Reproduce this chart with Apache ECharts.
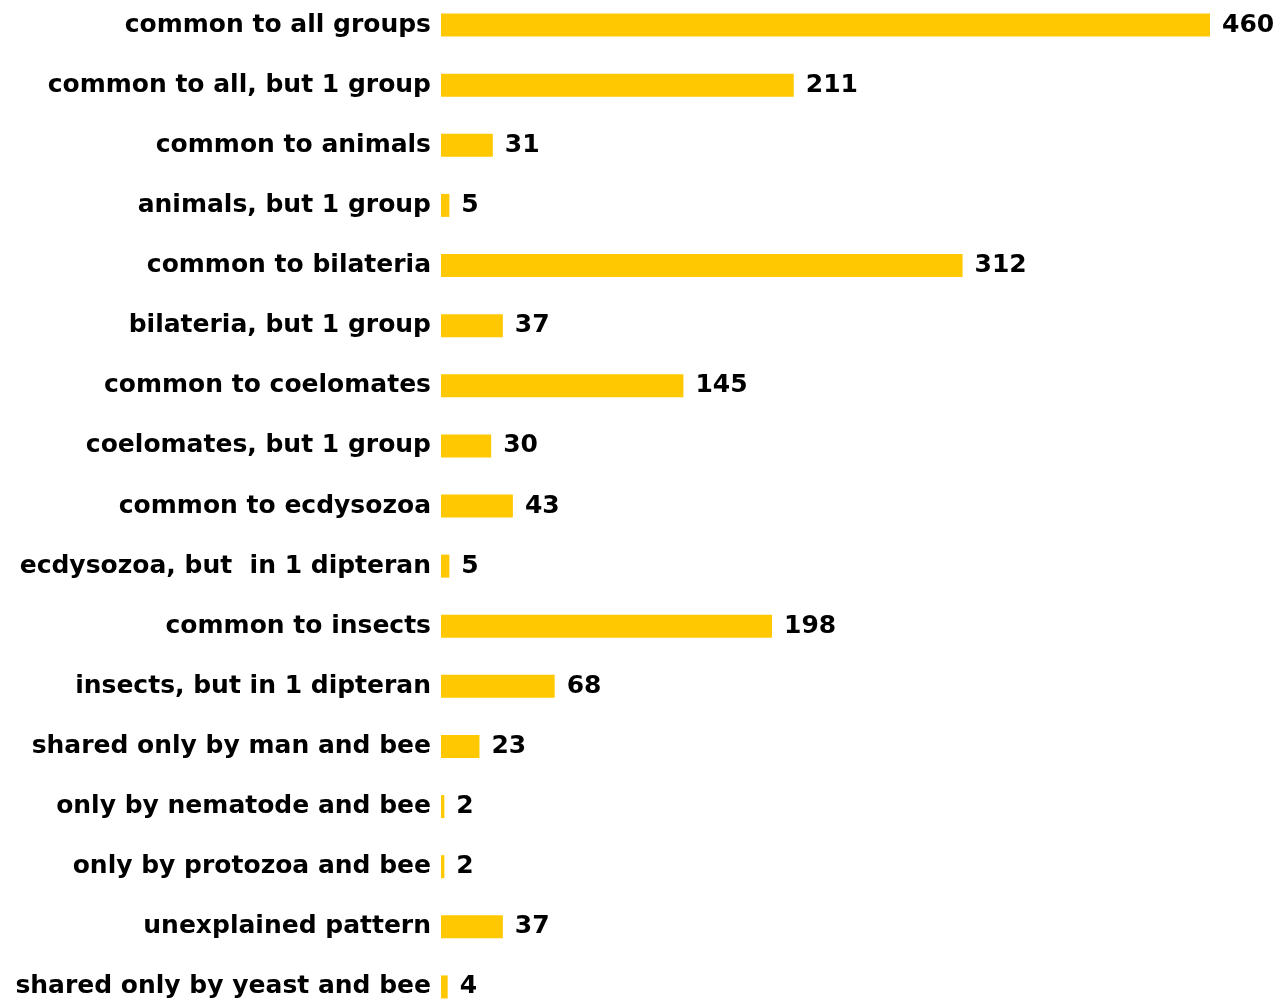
<!DOCTYPE html>
<html><head><meta charset="utf-8">
<script src="https://cdn.jsdelivr.net/npm/echarts@6/dist/echarts.min.js"></script>
<style>html,body{margin:0;padding:0;background:#fff}#c{width:1286px;height:1003px}</style>
</head><body><div id="c"></div>
<script>
const categories = [
  "common to all groups",
  "common to all, but 1 group",
  "common to animals",
  "animals, but 1 group",
  "common to bilateria",
  "bilateria, but 1 group",
  "common to coelomates",
  "coelomates, but 1 group",
  "common to ecdysozoa",
  "ecdysozoa, but  in 1 dipteran",
  "common to insects",
  "insects, but in 1 dipteran",
  "shared only by man and bee",
  "only by nematode and bee",
  "only by protozoa and bee",
  "unexplained pattern",
  "shared only by yeast and bee"
];
const values = [460, 211, 31, 5, 312, 37, 145, 30, 43, 5, 198, 68, 23, 2, 2, 37, 4];

const chart = echarts.init(document.getElementById('c'));
chart.setOption({
  animation: false,
  backgroundColor: '#ffffff',
  grid: { left: 441, right: 76, top: -5, height: 1022, containLabel: false, outerBoundsMode: 'none' },
  xAxis: { type: 'value', min: 0, max: 460, show: false },
  yAxis: {
    type: 'category', data: categories, inverse: true,
    axisLine: { show: false }, axisTick: { show: false },
    axisLabel: { margin: 10, color: '#000', fontFamily: 'DejaVu Sans', fontSize: 25, fontWeight: 'bold' }
  },
  series: [{
    type: 'bar', data: values, barWidth: 23,
    itemStyle: { color: '#FFC800' },
    label: { show: true, position: 'right', distance: 12, color: '#000', fontFamily: 'DejaVu Sans', fontSize: 25, fontWeight: 'bold' }
  }]
});
</script></body></html>
